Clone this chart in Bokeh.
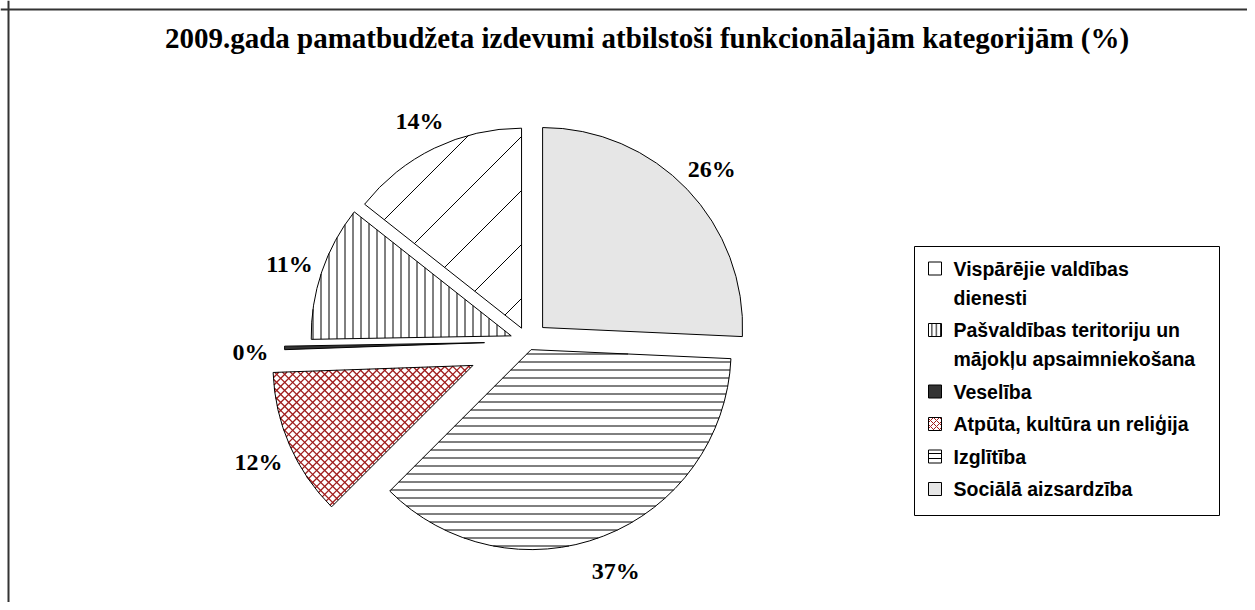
import math
from bokeh.plotting import figure
from bokeh.models import ColumnDataSource, Label, Span, Range1d
from bokeh.embed import file_html
from bokeh.resources import INLINE
from bokeh.core.properties import value

# ---------------- data ----------------
title_text = "2009.gada pamatbudžeta izdevumi atbilstoši funkcionālajām kategorijām (%)"
categories = [
    "Vispārējie valdības dienesti",
    "Pašvaldības teritoriju un mājokļu apsaimniekošana",
    "Veselība",
    "Atpūta, kultūra un reliģija",
    "Izglītība",
    "Sociālā aizsardzība",
]
legend_labels = [
    "Vispārējie valdības\ndienesti",
    "Pašvaldības teritoriju un\nmājokļu apsaimniekošana",
    "Veselība",
    "Atpūta, kultūra un reliģija",
    "Izglītība",
    "Sociālā aizsardzība",
]
shares = [14.36, 10.92, 0.28, 11.94, 36.78, 25.72]

# ---------------- styles ----------------
fills = ["white", "white", "#333333", "white", "white", "#e6e6e6"]
# hatch line families per slice: (angle in degrees, spacing, offset)
hatch_families = [
    [(45, 54 / math.sqrt(2), -1 / math.sqrt(2))],
    [(90, 8, -0.5)],
    [],
    [(45, 5.66, 0.0), (-45, 5.66, 0.0)],
    [(0, 8, 0.5)],
    [],
]
hatch_colors = ["black", "black", "black", "#a01c1c", "black", "black"]
hatch_widths = [1, 1, 1, 1.3, 1, 1]
swatch_hatch = [" ", "vertical_line", " ", "diagonal_cross", "horizontal_line", " "]
swatch_scale = [4, 4.3, 4, 6, 5, 4]
explode = [14.8, 17.7, 43.5, 60, 8.7, 20.2]

W, H = 1247, 602
CX, CY, R = 527.5, 261.0, 200.0
LABEL_R = 234.0


def cross(a, b):
    return a[0] * b[1] - a[1] * b[0]


def hatch_segments(cx, cy, r, a0, a1, phi, spacing, offset):
    ux, uy = math.cos(phi), math.sin(phi)
    nx, ny = -uy, ux
    q = nx * cx + ny * cy
    d0 = (math.cos(a0), math.sin(a0))
    d1 = (math.cos(a1), math.sin(a1))
    segs_x, segs_y = [], []
    kmin = math.ceil((q - r - offset) / spacing)
    kmax = math.floor((q + r - offset) / spacing)
    for k in range(kmin, kmax + 1):
        dist = offset + k * spacing - q
        if abs(dist) >= r:
            continue
        h = math.sqrt(r * r - dist * dist)
        vx, vy = nx * dist, ny * dist
        lo, hi = -h, h
        ok = True
        for A, B in ((cross(d0, (vx, vy)), cross(d0, (ux, uy))),
                     (cross((vx, vy), d1), cross((ux, uy), d1))):
            if abs(B) < 1e-12:
                if A < 0:
                    ok = False
                continue
            t = -A / B
            if B > 0:
                lo = max(lo, t)
            else:
                hi = min(hi, t)
        if ok and hi > lo:
            segs_x.append([cx + vx + lo * ux, cx + vx + hi * ux])
            segs_y.append([cy + vy + lo * uy, cy + vy + hi * uy])
    return segs_x, segs_y


total = sum(shares)
a0s, a1s, xs, ys, lxs, lys, lbls = [], [], [], [], [], [], []
hx, hy, hc, hw = [], [], [], []
start = math.pi / 2
for i, (s, e) in enumerate(zip(shares, explode)):
    a0 = start
    a1 = start + 2 * math.pi * s / total
    mid = (a0 + a1) / 2
    x = CX + e * math.cos(mid)
    y = CY + e * math.sin(mid)
    a0s.append(a0)
    a1s.append(a1)
    xs.append(x)
    ys.append(y)
    lxs.append(x + LABEL_R * math.cos(mid))
    lys.append(y + LABEL_R * math.sin(mid))
    lbls.append(f"{round(s)}%")
    for phi, sp, off in hatch_families[i]:
        sx, sy = hatch_segments(x, y, R, a0, a1, math.radians(phi), sp, off)
        hx += sx
        hy += sy
        hc += [hatch_colors[i]] * len(sx)
        hw += [hatch_widths[i]] * len(sx)
    start = a1

src = ColumnDataSource(dict(
    cat=categories, x=xs, y=ys, a0=a0s, a1=a1s, fill=fills, lx=lxs, ly=lys, lbl=lbls,
))

p = figure(width=W, height=H, x_range=Range1d(0, W), y_range=Range1d(0, H),
           output_backend="svg", toolbar_location=None, min_border=0,
           x_axis_location=None, y_axis_location=None)
p.grid.visible = False
p.outline_line_color = None
p.background_fill_color = "white"
p.border_fill_color = "white"

# slices: fill, then hatch lines, then outline
p.wedge(x="x", y="y", radius=R, start_angle="a0", end_angle="a1", direction="anticlock",
        fill_color="fill", line_color=None, source=src)
p.multi_line(xs=hx, ys=hy, line_color=hc, line_width=hw)
p.wedge(x="x", y="y", radius=R, start_angle="a0", end_angle="a1", direction="anticlock",
        fill_color=None, line_color="black", line_width=1, source=src)

# percentage labels
p.text(x="lx", y="ly", text="lbl", text_font=value("Liberation Serif"), text_font_style="bold",
       text_font_size="24px", text_align="center", text_baseline="middle", text_color="black",
       y_offset=3, source=src)

# title
p.add_layout(Label(x=646.5, y=565, text=title_text, text_font="Liberation Serif",
                   text_font_style="bold", text_font_size="29px", text_align="center",
                   text_baseline="alphabetic", text_color="black"))

# chart frame (left and top edges visible)
p.add_layout(Span(location=8, dimension="height", line_color="#333333", line_width=2))
p.add_layout(Span(location=593, dimension="width", line_color="#333333", line_width=2))

# ---------------- legend ----------------
LEG_L, LEG_R, LEG_T, LEG_B = 914, 1219, 602 - 246, 602 - 515
FIRST_LINE = 602 - 268
LINE_STEP, ITEM_STEP = 29, 32.5
p.quad(left=[LEG_L], right=[LEG_R], top=[LEG_T], bottom=[LEG_B],
       fill_color="white", line_color="black", line_width=1)

sw_y, tx, ty, tt = [], [], [], []
yy = FIRST_LINE
for lab in legend_labels:
    lines = lab.split("\n")
    sw_y.append(yy)
    for j, ln in enumerate(lines):
        tx.append(953)
        ty.append(yy - j * LINE_STEP)
        tt.append(ln)
    yy -= (len(lines) - 1) * LINE_STEP + ITEM_STEP

p.rect(x=[934.5] * len(sw_y), y=sw_y, width=13, height=13, fill_color=fills,
       line_color="black", line_width=1, hatch_pattern=swatch_hatch,
       hatch_color=hatch_colors, hatch_scale=swatch_scale, hatch_weight=1)
p.text(x=tx, y=ty, text=tt, text_font=value("Liberation Sans"), text_font_style="bold",
       text_font_size="19.5px", text_align="left", text_baseline="middle", text_color="black")

open("out.html", "w").write(file_html(p, INLINE))
